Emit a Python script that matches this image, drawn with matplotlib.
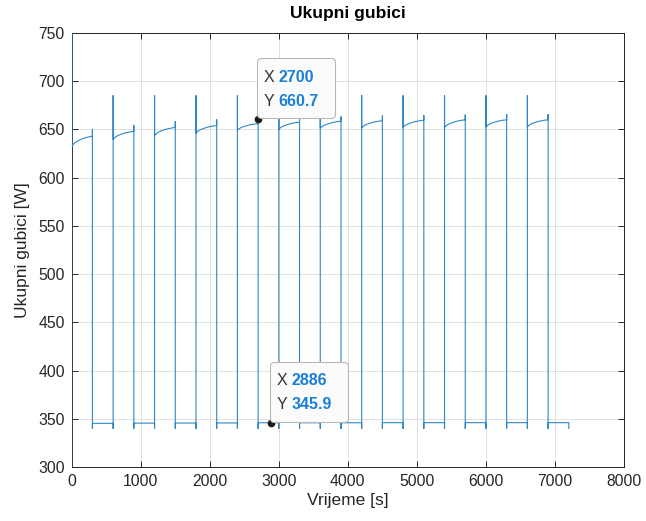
#!/usr/bin/env python3

"""plot.py: ukupni gubici kroz vrijeme, MATLAB-like look with two data tips."""

import matplotlib
matplotlib.use("Agg")
import matplotlib.pyplot as plt
from matplotlib.offsetbox import TextArea, HPacker, VPacker, DrawingArea, AnnotationBbox

# DATA #
cycle_start = [0, 600, 1200, 1800, 2400, 3000, 3600, 4200, 4800, 5400, 6000, 6600]
high_offsets = [0, 25, 60, 110, 170, 240, 300]
high_curves = [
    [632.0, 634.8, 637.0, 638.9, 640.8, 642.2, 643.0],
    [639.5, 641.6, 643.3, 644.9, 646.3, 647.4, 648.0],
    [643.5, 645.6, 647.3, 648.9, 650.3, 651.4, 652.0],
    [646.0, 648.0, 649.6, 651.0, 652.4, 653.4, 654.0],
    [649.0, 650.8, 652.2, 653.4, 654.6, 655.5, 656.0],
    [650.0, 651.9, 653.4, 654.7, 656.0, 657.0, 657.5],
    [651.0, 652.9, 654.4, 655.7, 657.0, 658.0, 658.5],
    [651.5, 653.4, 654.9, 656.2, 657.5, 658.5, 659.0],
    [652.0, 653.9, 655.4, 656.7, 658.0, 659.0, 659.5],
    [652.0, 654.0, 655.6, 657.0, 658.4, 659.4, 660.0],
    [652.5, 654.4, 655.9, 657.2, 658.5, 659.5, 660.0],
    [652.5, 654.4, 655.9, 657.2, 658.5, 659.5, 660.0],
]
spike_end = [650.0, 654.0, 658.0, 660.0, 660.7, 662.0, 663.0, 664.0, 664.5, 665.0, 665.5, 665.5]
spike_start = 685.0
low_level = [345.3, 345.5, 345.6, 345.7, 345.9, 345.9, 345.9, 346.0, 346.0, 346.0, 346.0, 346.0]
low_dip = 340.0
init_y = [280.0, 770.0]
half = 300
period = 600

tips_x = [2700, 2886]
tips_y = [660.7, 345.9]

xticks = [0, 1000, 2000, 3000, 4000, 5000, 6000, 7000, 8000]
yticks = [300, 350, 400, 450, 500, 550, 600, 650, 700, 750]

# BUILD THE SIGNAL #
t, p = [], []
for k, t0 in enumerate(cycle_start):
    if k == 0:
        t += [t0, t0]
        p += init_y
    else:
        t += [t0, t0]
        p += [low_dip, spike_start]
    t += [t0 + o for o in high_offsets]
    p += high_curves[k]
    t += [t0 + half, t0 + half, t0 + half, t0 + period, t0 + period]
    p += [spike_end[k], low_dip, low_level[k], low_level[k], low_dip]

# PLOT #
plt.rcParams['font.family'] = ['Liberation Sans', 'DejaVu Sans']
dark = '#262626'
line_col = '#2f88c6'
tip_col = '#1a7fd8'

fig = plt.figure(figsize=(6.46, 5.21), dpi=100)
ax = fig.add_axes([0.111, 0.1036, 0.855, 0.8331])

ax.plot(t, p, color=line_col, linewidth=0.8, zorder=3)
ax.set_xlim(0, 8000)
ax.set_ylim(300, 750)
ax.set_xticks(xticks)
ax.set_yticks(yticks)
ax.grid(True, color='#dcdcdc', linewidth=0.6)
ax.set_axisbelow(True)
ax.tick_params(direction='in', top=True, right=True, length=4.5, width=0.7,
               labelsize=11.3, colors=dark, pad=5)
for s in ax.spines.values():
    s.set_color(dark)
    s.set_linewidth(0.7)

ax.set_title('Ukupni gubici', fontsize=12.5, fontweight='bold', color='black', pad=11)
ax.set_xlabel('Vrijeme [s]', fontsize=12.5, color=dark, labelpad=3)
ax.set_ylabel('Ukupni gubici [W]', fontsize=12.5, color=dark, labelpad=6)

# data tips
for tx, ty in zip(tips_x, tips_y):
    ax.plot([tx], [ty], 'o', color='#1a1a1a', markersize=4.5, zorder=5)
    rows = []
    for name, val in (('X', f'{tx:g}'), ('Y', f'{ty:.1f}')):
        a = TextArea(name + ' ', textprops=dict(color='#333333', fontsize=11.5))
        b = TextArea(val, textprops=dict(color=tip_col, fontsize=11.5, fontweight='bold'))
        rows.append(HPacker(children=[a, b], align='baseline', pad=0, sep=0))
    rows_box = VPacker(children=rows, align='left', pad=0, sep=6.5)
    wide = HPacker(children=[rows_box, DrawingArea(7, 1)], align='center', pad=0, sep=0)
    box = VPacker(children=[DrawingArea(1, 4), wide, DrawingArea(1, 2.5)],
                  align='left', pad=2, sep=0)
    ab = AnnotationBbox(box, (tx, ty), xycoords='data', xybox=(2, 3),
                        boxcoords='offset points', box_alignment=(0, 0),
                        frameon=True, zorder=6,
                        bboxprops=dict(boxstyle='round,pad=0.25,rounding_size=0.3',
                                       fc='#fbfbfb', ec='#b8b8b8', lw=0.8))
    ax.add_artist(ab)

fig.savefig('out.png', dpi=100)
